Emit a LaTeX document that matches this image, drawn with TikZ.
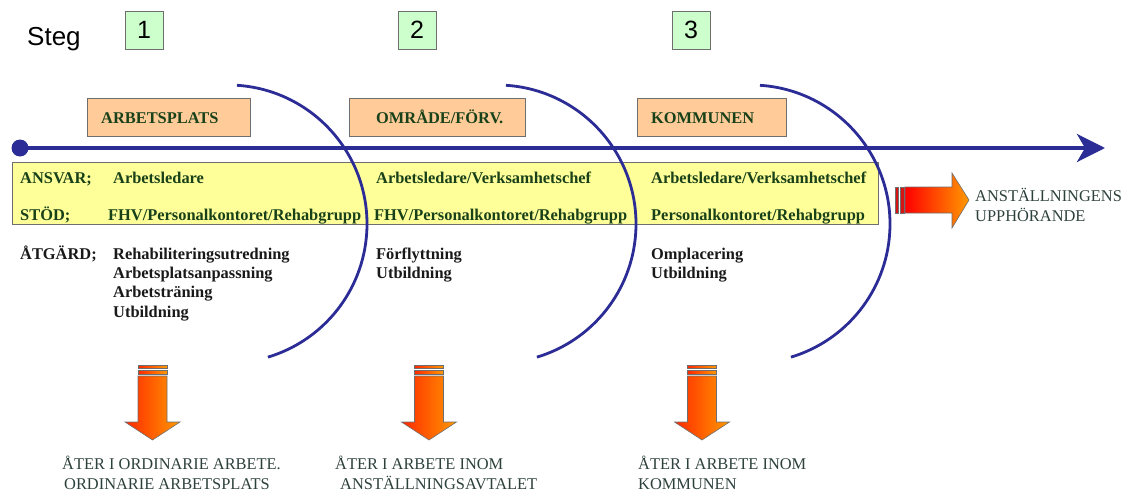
\documentclass[tikz,border=0pt]{standalone}
\usepackage{fontspec}
\setmainfont{Liberation Serif}
\newfontfamily\arialfont{Liberation Sans}
\usetikzlibrary{arrows.meta}
\definecolor{lineblue}{RGB}{44,44,150}
\definecolor{stepgreen}{RGB}{204,255,204}
\definecolor{boxorange}{RGB}{255,204,153}
\definecolor{boxyellow}{RGB}{255,255,153}
\definecolor{txtgreen}{RGB}{25,65,25}
\definecolor{txtteal}{RGB}{45,65,60}
\definecolor{arrred}{RGB}{255,40,0}
\definecolor{arrorange}{RGB}{255,153,0}
\definecolor{stripered}{RGB}{215,20,20}
\definecolor{edgegray}{RGB}{110,110,110}
\newcommand\droparrow[1]{%
  \begin{scope}[shift={(#1,0)}]
    \shadedraw[arrowfill] (-14.5,365) rectangle (14.5,368);
    \shadedraw[arrowfill] (-14.5,370) rectangle (14.5,374);
    \shadedraw[arrowfill] (-14.5,376) -- (14.5,376) -- (14.5,422) -- (27.5,422)
      -- (0,440) -- (-27.5,422) -- (-14.5,422) -- cycle;
  \end{scope}}
\begin{document}
\begin{tikzpicture}[x=1pt,y=-1pt,
  stepbox/.style={draw=edgegray, fill=stepgreen, line width=0.8pt, minimum width=38pt,
    minimum height=38pt, inner sep=0pt, font=\arialfont\fontsize{25}{28}\selectfont},
  areabox/.style={draw=edgegray, fill=boxorange, line width=0.8pt, minimum height=38pt,
    inner sep=0pt, anchor=north west},
  greentxt/.style={anchor=base west, inner sep=0pt, text=txtgreen,
    font=\bfseries\fontsize{16.4}{19}\selectfont},
  acttxt/.style={anchor=base west, inner sep=0pt, text=black!90,
    font=\bfseries\fontsize{16.4}{19}\selectfont},
  outtxt/.style={anchor=base west, inner sep=0pt, text=txtteal,
    font=\fontsize{16.4}{19}\selectfont},
  stagearc/.style={draw=lineblue, line width=2.8pt},
  arrowfill/.style={left color=arrred, right color=arrorange, draw=edgegray, line width=0.6pt}]
\useasboundingbox (0,0) rectangle (1131,492);

% Steg header
\node[anchor=base west, inner sep=0pt, font=\arialfont\fontsize{26}{30}\selectfont] (steg) at (27,46) {Steg};
\node[stepbox] (s1) at (144,30) {1};
\node[stepbox] (s2) at (417,30) {2};
\node[stepbox] (s3) at (691,30) {3};

% orange boxes
\node[areabox, minimum width=163pt] (b1) at (87,98) {};
\node[areabox, minimum width=176pt] (b2) at (349,98) {};
\node[areabox, minimum width=149pt] (b3) at (637,98) {};
\node[greentxt] (t1) at (101,124) {ARBETSPLATS};
\node[greentxt] (t2) at (376,124) {OMRÅDE/FÖRV.};
\node[greentxt] (t3) at (651,124) {KOMMUNEN};

% timeline
\node[circle, fill=lineblue, minimum size=17pt, inner sep=0pt] (dot) at (20,148) {};
\coordinate (tip) at (1105,148);
\draw[line width=4pt, lineblue, -{Stealth[length=28pt,width=28pt,inset=8pt]}] (dot.center) -- (tip);

% yellow band
\node[draw=edgegray, fill=boxyellow, line width=1pt, minimum width=866pt, minimum height=62pt,
  anchor=north west, inner sep=0pt] (band) at (12,162) {};
\node[greentxt] (ansvar) at (20,183) {ANSVAR;};
\node[greentxt] (stod) at (20,220) {STÖD;};
\node[greentxt] (a1) at (113,183) {Arbetsledare};
\node[greentxt] (f1) at (108,220) {FHV/Personalkontoret/Rehabgrupp};
\node[greentxt] (a2) at (376,183) {Arbetsledare/Verksamhetschef};
\node[greentxt] (f2) at (374,220) {FHV/Personalkontoret/Rehabgrupp};
\node[greentxt] (a3) at (651,183) {Arbetsledare/Verksamhetschef};
\node[greentxt] (f3) at (651,220) {Personalkontoret/Rehabgrupp};

% actions
\node[acttxt] (atg) at (20,259) {ÅTGÄRD;};
\node[acttxt] (m11) at (113,259) {Rehabiliteringsutredning};
\node[acttxt] (m12) at (113,278.3) {Arbetsplatsanpassning};
\node[acttxt] (m13) at (113,297.6) {Arbetsträning};
\node[acttxt] (m14) at (113,317) {Utbildning};
\node[acttxt] (m21) at (376,259) {Förflyttning};
\node[acttxt] (m22) at (376,278.3) {Utbildning};
\node[acttxt] (m31) at (651,259) {Omplacering};
\node[acttxt] (m32) at (651,278.3) {Utbildning};

% stage arcs
\draw[stagearc] (228,224) ++(-86.3:139) arc[start angle=-86.3, end angle=73.3, radius=139];
\draw[stagearc] (497,224) ++(-86.3:139) arc[start angle=-86.3, end angle=73.3, radius=139];
\draw[stagearc] (751,224) ++(-86.3:139) arc[start angle=-86.3, end angle=73.3, radius=139];

% right arrow
\filldraw[fill=stripered, draw=edgegray, line width=0.6pt] (895,187) rectangle (898.5,213);
\filldraw[fill=stripered, draw=edgegray, line width=0.6pt] (900,187) rectangle (904,213);
\shadedraw[left color=red, right color=arrorange, draw=edgegray, line width=0.6pt]
  (905,187) -- (952,187) -- (952,173) -- (969,200) -- (952,228) -- (952,213) -- (905,213) -- cycle;
\node[outtxt] (end1) at (975,201) {ANSTÄLLNINGENS};
\node[outtxt] (end2) at (975,221) {UPPHÖRANDE};

% down arrows
\droparrow{152.5}
\droparrow{429}
\droparrow{702}

% outcomes
\node[outtxt] (o11) at (62,469) {ÅTER I ORDINARIE ARBETE.};
\node[outtxt] (o12) at (64,489) {ORDINARIE ARBETSPLATS};
\node[outtxt] (o21) at (335,469) {ÅTER I ARBETE INOM};
\node[outtxt] (o22) at (340,489) {ANSTÄLLNINGSAVTALET};
\node[outtxt] (o31) at (638,469) {ÅTER I ARBETE INOM};
\node[outtxt] (o32) at (638,489) {KOMMUNEN};
\end{tikzpicture}
\end{document}
